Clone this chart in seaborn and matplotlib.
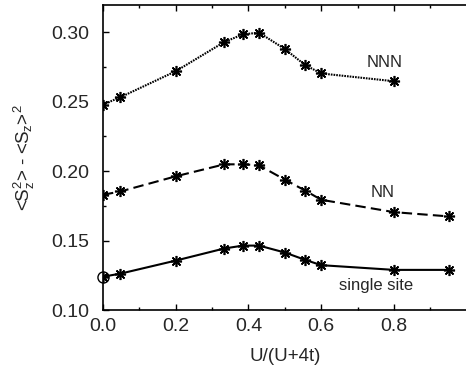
import numpy as np
import pandas as pd
import matplotlib
matplotlib.use("Agg")
import matplotlib.pyplot as plt
import seaborn as sns
from matplotlib.ticker import MultipleLocator

sns.set_style("ticks")
plt.rcParams['font.family'] = ['Liberation Sans', 'DejaVu Sans']
plt.rcParams['mathtext.fontset'] = 'custom'
plt.rcParams['mathtext.rm'] = 'Liberation Sans'
plt.rcParams['mathtext.it'] = 'Liberation Sans'

x_nnn = [0.0, 0.048, 0.2, 0.333, 0.385, 0.429, 0.5, 0.556, 0.6, 0.8]
y_nnn = [0.248, 0.2533, 0.272, 0.293, 0.2986, 0.2998, 0.288, 0.2764, 0.2704, 0.2648]

x_nn = [0.0, 0.048, 0.2, 0.333, 0.385, 0.429, 0.5, 0.556, 0.6, 0.8, 0.952]
y_nn = [0.183, 0.1854, 0.1963, 0.2049, 0.205, 0.2042, 0.1939, 0.186, 0.1794, 0.1705, 0.1674]

x_single = [0.0, 0.048, 0.2, 0.333, 0.385, 0.429, 0.5, 0.556, 0.6, 0.8, 0.952]
y_single = [0.124, 0.1262, 0.1356, 0.1443, 0.1464, 0.1464, 0.1414, 0.1361, 0.1323, 0.1289, 0.1289]

circle_x = [0.0]
circle_y = [0.124]

labels = ["NNN", "NN", "single site"]
label_x = [0.775, 0.77, 0.75]
label_y = [0.278, 0.1845, 0.118]

xticks = [0.0, 0.2, 0.4, 0.6, 0.8]
yticks = [0.10, 0.15, 0.20, 0.25, 0.30]

fig = plt.figure(figsize=(4.66, 3.71), dpi=100)
ax = fig.add_axes([0.221, 0.1644, 0.7806, 0.8213])

ast = (8, 2, 0)
common = dict(color='black', marker=ast, markersize=8, markeredgewidth=1.2,
              markeredgecolor='black', linewidth=1.5, ax=ax)

df1 = pd.DataFrame({'x': x_nnn, 'y': y_nnn})
df2 = pd.DataFrame({'x': x_nn, 'y': y_nn})
df3 = pd.DataFrame({'x': x_single, 'y': y_single})

sns.lineplot(data=df1, x='x', y='y', linestyle=(0, (0.8, 0.5)), **common)
sns.lineplot(data=df2, x='x', y='y', linestyle=(0, (5, 2.5)), **common)
sns.lineplot(data=df3, x='x', y='y', linestyle='-', **common)
ax.plot(circle_x, circle_y, marker='o', markersize=8, markerfacecolor='none',
        markeredgecolor='black', markeredgewidth=1.0, linestyle='none', clip_on=False)

for t, lx, ly in zip(labels, label_x, label_y):
    ax.text(lx, ly, t, ha='center', va='center', fontsize=12)

ax.set_xlim(0, 1.0)
ax.set_ylim(0.10, 0.3195)
ax.set_xticks(xticks)
ax.set_xticklabels([f"{v:.1f}" for v in xticks])
ax.set_yticks(yticks)
ax.set_yticklabels([f"{v:.2f}" for v in yticks])
ax.xaxis.set_minor_locator(MultipleLocator(0.1))
ax.yaxis.set_minor_locator(MultipleLocator(0.025))
ax.tick_params(which='both', direction='in', top=True, right=False, labelsize=14,
               width=1.0, color='black')
ax.tick_params(which='major', length=4)
ax.tick_params(axis='x', which='major', pad=6)
ax.tick_params(axis='y', which='major', pad=10)
ax.tick_params(which='minor', length=2.5)
for s in ['left', 'bottom', 'top']:
    ax.spines[s].set_visible(True)
    ax.spines[s].set_linewidth(1.2)
    ax.spines[s].set_color('black')
ax.spines['right'].set_visible(False)

ax.set_xlabel('U/(U+4t)', fontsize=13.5, labelpad=9)
ax.set_ylabel(r'<S$_z^2$> - <S$_z$>$^2$', fontsize=13.5, labelpad=10)

fig.savefig('out.png', dpi=100)
